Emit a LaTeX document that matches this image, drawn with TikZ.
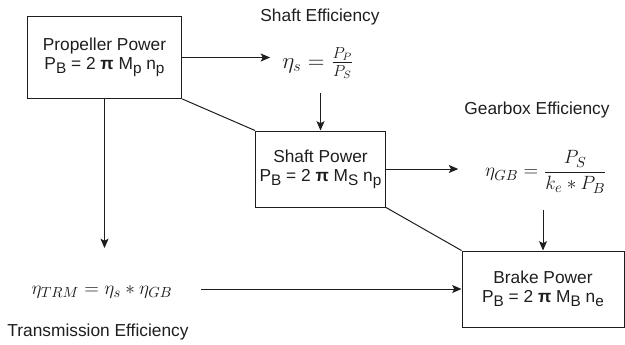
\documentclass[tikz,border=0pt]{standalone}
\usepackage{amsmath}
\usepackage{fontspec}
\setmainfont{Liberation Sans}
\usepackage{tikz}
\usetikzlibrary{arrows.meta,positioning}
\definecolor{ink}{RGB}{30,30,30}
\newcommand{\boxfont}{\fontsize{13}{14.5}\selectfont}
\newcommand{\lsub}[1]{\raisebox{-3pt}{\fontsize{11.5}{12}\selectfont #1}}

\begin{document}
\begin{tikzpicture}[x=0.75pt,y=-0.75pt,>={Stealth[length=7pt,width=6pt,inset=1.5pt]},
    every node/.style={font=\boxfont,text=ink},
    powerbox/.style={draw=ink,line width=0.75pt,align=center,inner sep=0pt},
    formula/.style={inner sep=2pt},
    flow/.style={->,draw=ink,line width=0.75pt}]
  \useasboundingbox (0,0) rectangle (625,344);
  % boxes
  \node[powerbox,minimum width=116pt,minimum height=61.5pt] (prop) at (104.5,57.5) {Propeller Power\\P\lsub{B} = 2 {\bfseries π} M\lsub{p} n\lsub{p}};
  \node[powerbox,minimum width=97.5pt,minimum height=57pt] (shaft) at (320.5,169) {Shaft Power\\P\lsub{B} = 2 {\bfseries π} M\lsub{S} n\lsub{p}};
  \node[powerbox,minimum width=121.5pt,minimum height=57pt] (brake) at (543,289) {Brake Power\\P\lsub{B} = 2 {\bfseries π} M\lsub{B} n\lsub{e}};
  % efficiencies
  \node[formula,font=\fontsize{17}{18}\selectfont] (etas) at (318,63) {$\eta_s=\frac{P_P}{P_S}$};
  \node[formula,font=\fontsize{15}{16}\selectfont] (etagb) at (546,172) {$\displaystyle\eta_{GB}=\frac{P_S}{k_e*P_B}$};
  \node[formula,font=\fontsize{15}{16}\selectfont] (etatrm) at (102,292) {$\eta_{TRM}=\eta_s*\eta_{GB}$};
  \node (shafteff) at (320,17) {Shaft Efficiency};
  \node (gbeff) at (537,110) {Gearbox Efficiency};
  \node (trmeff) at (98,332) {Transmission Efficiency};
  % connectors
  \draw[flow,shorten >=7pt] (prop.east) -- (prop.east -| etas.west);
  \draw[flow,shorten <=9pt] (etas.south -| shaft.north) -- (shaft.north);
  \draw[ink,line width=0.75pt] (prop.south east) -- (shaft.north west);
  \draw[flow,shorten >=18pt] (shaft.east) -- (shaft.east -| etagb.west);
  \draw[flow,shorten <=10.5pt] (etagb.south -| brake.north) -- (brake.north);
  \draw[ink,line width=0.75pt] (shaft.south east) -- (brake.north west);
  \draw[flow,shorten >=26pt] (prop.south) -- (prop.south |- etatrm.north);
  \draw[flow,shorten <=19.5pt] (etatrm.east |- brake.west) -- (brake.west);
\end{tikzpicture}
\end{document}
